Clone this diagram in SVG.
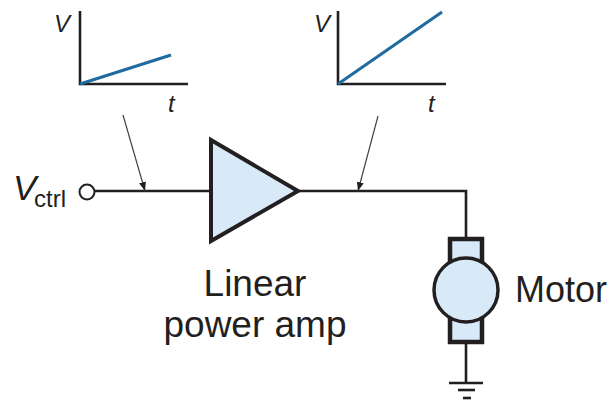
<svg xmlns="http://www.w3.org/2000/svg" width="610" height="403" viewBox="0 0 610 403">
<style>
.k{fill:none;stroke:#231f20;stroke-width:2.6}
.b{fill:none;stroke:#1f6a9e;stroke-width:3}
.p{fill:none;stroke:#444;stroke-width:1.2}
.f{fill:#d8e9f8;stroke:#231f20}
text{font-family:"Liberation Sans",Arial,sans-serif;fill:#231f20}
.i{font-style:italic}
</style>
<defs><marker id="a" markerUnits="userSpaceOnUse" markerWidth="10" markerHeight="10" refX="9" refY="3.5" orient="auto"><path d="M0 0L9 3.5L0 7z" fill="#231f20"/></marker></defs>
<rect width="610" height="403" fill="#fff"/>
<g id="connectors">
<path class="k" d="M95 191H210"/>
<path class="k" d="M298 191H466V238"/>
<path class="k" d="M466 343V383"/>
<path class="p" d="M123 115L145 191" marker-end="url(#a)"/>
<path class="p" d="M378 116L358 191" marker-end="url(#a)"/>
</g>
<g id="graph-input">
<path class="k" d="M80 11V84H188"/>
<path class="b" d="M80 84L171 55"/>
<text class="i" x="54" y="32" font-size="24">V</text>
<text class="i" x="168" y="112" font-size="24">t</text>
</g>
<g id="graph-output">
<path class="k" d="M338 11V84H446"/>
<path class="b" d="M338 84L442 12"/>
<text class="i" x="314" y="32" font-size="24">V</text>
<text class="i" x="428" y="112" font-size="24">t</text>
</g>
<g id="vctrl">
<circle cx="87" cy="192" r="7.5" fill="#fff" stroke="#231f20" stroke-width="2"/>
<text class="i" x="13" y="200" font-size="35">V</text>
<text x="34" y="207" font-size="24">ctrl</text>
</g>
<g id="amp">
<path class="f" stroke-width="4" d="M211 140V241L298 191z"/>
<text x="255" y="296" font-size="37" text-anchor="middle">Linear</text>
<text x="255" y="337" font-size="37" text-anchor="middle">power amp</text>
</g>
<g id="motor">
<rect class="f" x="450" y="239" width="32" height="103" stroke-width="4.5"/>
<circle class="f" cx="466" cy="290" r="32" stroke-width="3.5"/>
<text x="515" y="302" font-size="36">Motor</text>
</g>
<g id="ground">
<path class="k" d="M449 383H483"/>
<path class="k" d="M458 390H475"/>
<path class="k" d="M463 398H471"/>
</g>
</svg>
